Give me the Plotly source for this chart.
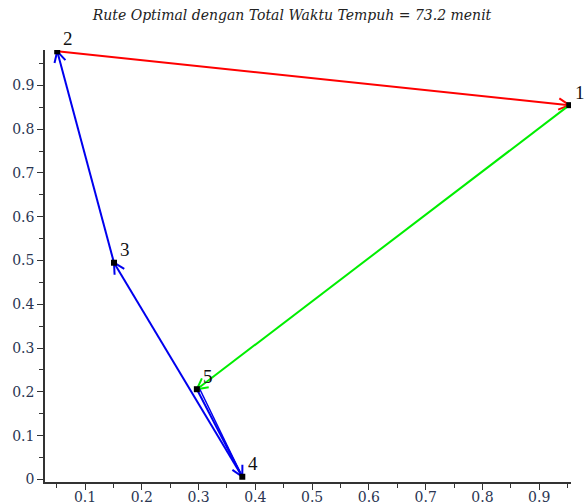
import math
import plotly.graph_objects as go

# Node coordinates
nodes = ["1", "2", "3", "4", "5"]
node_x = [0.953, 0.051, 0.151, 0.377, 0.297]
node_y = [0.855, 0.978, 0.495, 0.006, 0.206]

# Route edges (from -> to) and colours
edge_from = ["2", "1", "5", "4", "3"]
edge_to = ["1", "5", "4", "3", "2"]
edge_color = ["#ff0000", "#00ee00", "#0000ee", "#0000ee", "#0000ee"]

title = "Rute Optimal dengan Total Waktu Tempuh = 73.2 menit"

W, H = 584, 504
ML, MR, MT, MB = 45, 13, 50, 22
XR = [0.0295, 0.956]
YR = [-0.006, 0.981]
sx = (W - ML - MR) / (XR[1] - XR[0])   # px per unit
sy = (H - MT - MB) / (YR[1] - YR[0])

idx = {n: i for i, n in enumerate(nodes)}
fig = go.Figure()
HEAD_LEN, HEAD_ANG = 12, math.radians(28)
for f, t, c in zip(edge_from, edge_to, edge_color):
    xf, yf = node_x[idx[f]], node_y[idx[f]]
    xt, yt = node_x[idx[t]], node_y[idx[t]]
    fig.add_trace(go.Scatter(x=[xf, xt], y=[yf, yt], mode="lines",
                             line=dict(color=c, width=2), hoverinfo="skip", showlegend=False))
    # open V arrow head at the target, built from the edge direction
    dxp, dyp = (xf - xt) * sx, (yf - yt) * sy
    ang = math.atan2(dyp, dxp)
    hx, hy = [], []
    for s in (1, -1):
        a = ang + s * HEAD_ANG
        hx += [xt + HEAD_LEN * math.cos(a) / sx, xt, None]
        hy += [yt + HEAD_LEN * math.sin(a) / sy, yt, None]
    fig.add_trace(go.Scatter(x=hx, y=hy, mode="lines", line=dict(color=c, width=2),
                             hoverinfo="skip", showlegend=False))

# second (thin) shaft edge of the 5 -> 4 arrow
fig.add_trace(go.Scatter(x=[node_x[idx["5"]] + 3 / sx, node_x[idx["4"]]],
                         y=[node_y[idx["5"]], node_y[idx["4"]]], mode="lines",
                         line=dict(color="#0000ee", width=1.5), hoverinfo="skip", showlegend=False))

fig.add_trace(go.Scatter(x=node_x, y=node_y, mode="markers",
                         marker=dict(symbol="square", size=6, color="black"),
                         hoverinfo="skip", showlegend=False))

annotations = [dict(x=x, y=y, xref="x", yref="y", text=n, showarrow=False,
                    xshift=11, yshift=13,
                    font=dict(family="Liberation Serif", size=19, color="#111111"))
               for n, x, y in zip(nodes, node_x, node_y)]

axis_common = dict(showline=True, linecolor="#333333", linewidth=1.5, ticks="outside",
                   ticklen=6, tickwidth=1.2, tickcolor="#333333", showgrid=False, zeroline=False,
                   dtick=0.1, tick0=0, automargin=False,
                   tickfont=dict(family="DejaVu Serif", size=14, color="#2a3552"),
                   minor=dict(ticks="outside", ticklen=4, dtick=0.05, tick0=0, tickcolor="#333333",
                              tickwidth=1.2, showgrid=False))

fig.update_layout(
    width=W, height=H,
    margin=dict(l=ML, r=MR, t=MT, b=MB, autoexpand=False),
    paper_bgcolor="white", plot_bgcolor="white",
    title=dict(text="<i>" + title + "</i>", x=0.5, xanchor="center", y=0.97, yanchor="middle",
               font=dict(family="DejaVu Serif", size=14, color="#222222")),
    xaxis=dict(range=XR, ticklabelstandoff=-5, **axis_common),
    yaxis=dict(range=YR, **axis_common),
    annotations=annotations,
)

fig.write_html("out.html", config={"displayModeBar": False},
               post_script="document.body.style.margin='0';")
